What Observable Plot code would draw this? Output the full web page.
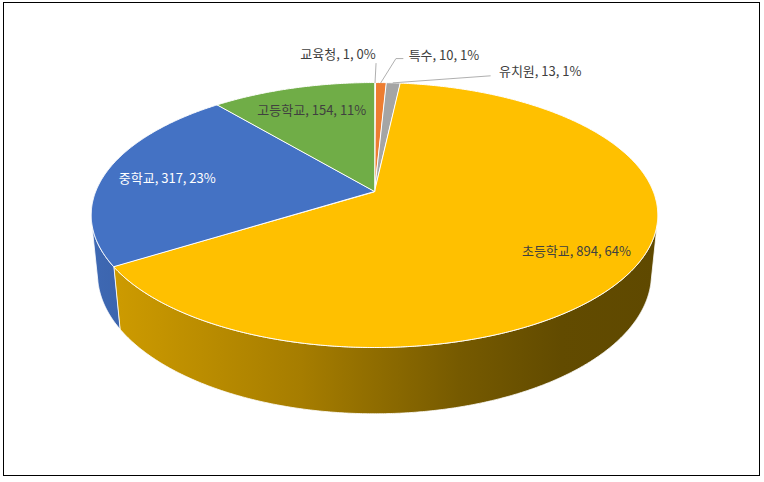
<!DOCTYPE html>
<html><head><meta charset="utf-8">
<script src="https://cdn.jsdelivr.net/npm/d3@7"></script>
<script src="https://cdn.jsdelivr.net/npm/@observablehq/plot@0.6"></script>
<style>
body{margin:0;background:#fff;}
#wrap{position:relative;width:764px;height:482px;overflow:hidden;}
#chart svg{display:block;}
#frame{position:absolute;left:3px;top:2px;width:757px;height:474px;box-sizing:border-box;border:1px solid #000;pointer-events:none;}
</style>
</head><body>
<div id="wrap"><div id="chart"></div><div id="frame"></div></div>
<script>
// ---- data ----
const categories = ["교육청", "특수", "유치원", "초등학교", "중학교", "고등학교"];
const values = [1, 10, 13, 894, 317, 154];
const topColors = ["#4472C4", "#ED7D31", "#A5A5A5", "#FFC000", "#4472C4", "#70AD47"];
const labelColors = ["#404040", "#404040", "#404040", "#404040", "#FFFFFF", "#404040"];
const sideFills = ["url(#gBlue)", "url(#gOrange)", "url(#gGray)", "url(#gYellow)", "url(#gBlue)", "url(#gGreen)"];

// ---- layout (not data): outside labels, offsets in px from slice rim point ----
const outsideLayout = {
  0: {dx: -37, dy: -28, leader: [[1, -19]]},
  1: {dx: 63, dy: -27, leader: [[15, -24], [22, -24]]},
  2: {dx: 147, dy: -11, leader: [[97, -7]]}
};
const insideRadius = 0.78;

// ---- 3D perspective projection of a cylinder ----
const phi = 27.4 * Math.PI / 180, cph = Math.cos(phi), sph = Math.sin(phi);
const Dcam = 5.0, Fcam = 1394, depthH = 0.24;
function proj(r, a, z) { // a: angle clockwise from 12 o'clock
  const th = Math.PI / 2 - a;
  const X = r * Math.cos(th), Y = r * Math.sin(th);
  const dep = Dcam + Y * cph - z * sph;
  return {x: Fcam * X / dep, y: Fcam * (Y * sph + z * cph) / dep};
}

const total = d3.sum(values);
const pie = d3.pie().sort(null).value(d => d)(values);
const step = 0.4 * Math.PI / 180;
function arcAngles(a0, a1) {
  const n = Math.max(2, Math.ceil((a1 - a0) / step) + 1);
  return d3.range(n).map(i => a0 + (a1 - a0) * i / (n - 1));
}

// visible side range
const k = Math.asin(1 / (Dcam * cph));
const visA0 = Math.PI / 2 + k, visA1 = 3 * Math.PI / 2 - k;

const tops = [], sides = [], labels = [], leaders = [];
pie.forEach((p, i) => {
  const a0 = p.startAngle, a1 = p.endAngle;
  const pts = [proj(0, 0, 0), ...arcAngles(a0, a1).map(a => proj(1, a, 0))];
  tops.push({i, pts});
  const s0 = Math.max(a0, visA0), s1 = Math.min(a1, visA1);
  if (s1 > s0) {
    const arc = arcAngles(s0, s1);
    const sp = [...arc.map(a => proj(1, a, 0)), ...arc.slice().reverse().map(a => proj(1, a, -depthH))];
    sides.push({i, pts: sp});
  }
  const mid = (a0 + a1) / 2;
  const pct = Math.round(values[i] / total * 100);
  const text = `${categories[i]}, ${values[i]}, ${pct}%`;
  if (outsideLayout[i]) {
    const rim = proj(1, mid, 0);
    const L = outsideLayout[i];
    labels.push({x: rim.x + L.dx, y: rim.y - L.dy, text, color: labelColors[i]});
    leaders.push({id: i, x: rim.x, y: rim.y});
    L.leader.forEach(([dx, dy]) => leaders.push({id: i, x: rim.x + dx, y: rim.y - dy}));
  } else {
    const c = proj(insideRadius, mid, 0);
    labels.push({x: c.x + 3, y: c.y - 3, text, color: labelColors[i]});
  }
});

function defsMark(index, scales) {
  const ns = "http://www.w3.org/2000/svg";
  const defs = document.createElementNS(ns, "defs");
  const xs = scales && scales.x ? scales.x : (v => v + 374);
  const x1 = xs(-283), x2 = xs(283);
  const grads = {
    gYellow: [[0, "#D6A300"], [0.05, "#CC9A00"], [0.37, "#A67D00"], [0.65, "#765A00"], [0.83, "#624B00"], [1, "#5F4900"]],
    gBlue: [[0, "#3E68B3"], [0.1, "#3A62A9"], [1, "#22396A"]],
    gOrange: [[0, "#C56220"], [1, "#7A3A10"]],
    gGray: [[0, "#8C8C8C"], [1, "#555555"]],
    gGreen: [[0, "#5E9439"], [1, "#3A5E22"]]
  };
  for (const [id, stops] of Object.entries(grads)) {
    const g = document.createElementNS(ns, "linearGradient");
    g.setAttribute("id", id);
    g.setAttribute("gradientUnits", "userSpaceOnUse");
    g.setAttribute("x1", x1); g.setAttribute("x2", x2);
    g.setAttribute("y1", 0); g.setAttribute("y2", 0);
    for (const [o, c] of stops) {
      const s = document.createElementNS(ns, "stop");
      s.setAttribute("offset", o); s.setAttribute("stop-color", c);
      g.appendChild(s);
    }
    defs.appendChild(g);
  }
  return defs;
}

const font = "'Noto Sans CJK KR', 'Noto Sans', sans-serif";
const chart = Plot.plot({
  width: 764, height: 482, margin: 0,
  style: {background: "#fff", fontFamily: font},
  x: {domain: [-374, 390], range: [0, 764], axis: null},
  y: {domain: [191, -291], range: [0, 482], axis: null},
  color: {type: "identity"},
  marks: [
    defsMark,
    ...sides.map(s => Plot.line(s.pts, {x: "x", y: "y", curve: "linear-closed", fill: sideFills[s.i], stroke: "#ffffff", strokeWidth: 0.8, strokeLinejoin: "round"})),
    ...tops.map(t => Plot.line(t.pts, {x: "x", y: "y", curve: "linear-closed", fill: topColors[t.i], stroke: "#ffffff", strokeWidth: 1, strokeLinejoin: "round"})),
    Plot.line(leaders, {x: "x", y: "y", z: "id", stroke: "#A6A6A6", strokeWidth: 0.9}),
    Plot.text(labels, {x: "x", y: "y", text: "text", fill: "color", fontSize: 13, fontFamily: font, textAnchor: "middle"})
  ]
});
document.getElementById("chart").appendChild(chart);
</script>
</body></html>
